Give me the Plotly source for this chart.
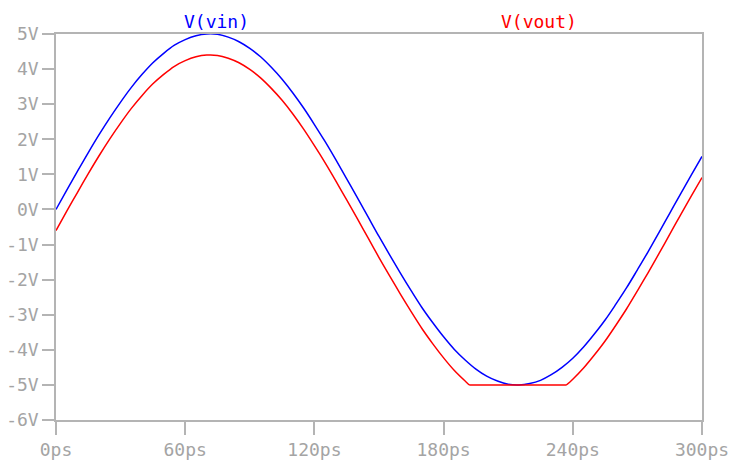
import plotly.graph_objects as go

# Time samples (ps) and node voltages (V)
t_vin = [0, 5, 10, 15, 20, 25, 30, 35, 40, 45, 50, 55, 60, 65, 70, 75, 80, 85, 90, 95,
         100, 105, 110, 115, 120, 125, 130, 135, 140, 145, 150, 155, 160, 165, 170, 175,
         180, 185, 190, 195, 200, 205, 210, 215, 220, 225, 230, 235, 240, 245, 250, 255,
         260, 265, 270, 275, 280, 285, 290, 295, 300]
v_vin = [0.00, 0.55, 1.09, 1.62, 2.13, 2.61, 3.06, 3.48, 3.85, 4.18, 4.45, 4.68, 4.84,
         4.95, 5.00, 4.99, 4.91, 4.78, 4.59, 4.35, 4.05, 3.71, 3.32, 2.89, 2.42, 1.93,
         1.41, 0.87, 0.33, -0.22, -0.77, -1.30, -1.82, -2.32, -2.80, -3.23, -3.63, -3.99,
         -4.29, -4.55, -4.75, -4.89, -4.98, -5.00, -4.96, -4.87, -4.71, -4.50, -4.24,
         -3.92, -3.55, -3.15, -2.70, -2.23, -1.72, -1.20, -0.66, -0.11, 0.44, 0.98, 1.51]

t_vout = [0, 5, 10, 15, 20, 25, 30, 35, 40, 45, 50, 55, 60, 65, 70, 75, 80, 85, 90, 95,
          100, 105, 110, 115, 120, 125, 130, 135, 140, 145, 150, 155, 160, 165, 170, 175,
          180, 185, 190, 192, 195, 200, 205, 210, 215, 220, 225, 230, 235, 237, 240, 245,
          250, 255, 260, 265, 270, 275, 280, 285, 290, 295, 300]
v_vout = [-0.60, -0.05, 0.49, 1.02, 1.53, 2.01, 2.46, 2.88, 3.25, 3.58, 3.85, 4.08, 4.24,
          4.35, 4.40, 4.39, 4.31, 4.18, 3.99, 3.75, 3.45, 3.11, 2.72, 2.29, 1.82, 1.33,
          0.81, 0.27, -0.27, -0.82, -1.37, -1.90, -2.42, -2.92, -3.40, -3.83, -4.23, -4.59,
          -4.89, -5.00, -5.00, -5.00, -5.00, -5.00, -5.00, -5.00, -5.00, -5.00, -5.00,
          -5.00, -4.84, -4.52, -4.15, -3.75, -3.30, -2.83, -2.32, -1.80, -1.26, -0.71,
          -0.16, 0.38, 0.91]

x_ticks = [0, 60, 120, 180, 240, 300]
x_labels = ["0ps", "60ps", "120ps", "180ps", "240ps", "300ps"]
y_ticks = [5, 4, 3, 2, 1, 0, -1, -2, -3, -4, -5, -6]
y_labels = ["5V", "4V", "3V", "2V", "1V", "0V", "-1V", "-2V", "-3V", "-4V", "-5V", "-6V"]

MONO = "DejaVu Sans Mono"
GREY = "#a4a4a4"
AXIS = "#b4b4b4"
FS = 18

W, H = 733, 462
L, R, T, B = 56, 31, 34, 42
pw, ph = W - L - R, H - T - B


def px_to_paper(px, py):
    return (px - L) / pw, (H - py - B) / ph


fig = go.Figure()
fig.add_trace(go.Scatter(x=t_vin, y=v_vin, mode="lines", name="V(vin)",
                         line=dict(color="#0000ff", width=1.5, shape="spline",
                                   smoothing=1)))
fig.add_trace(go.Scatter(x=t_vout, y=v_vout, mode="lines", name="V(vout)",
                         line=dict(color="#ff0000", width=1.5, shape="spline",
                                   smoothing=0.6)))

for text, color, (px, py) in [("V(vin)", "#0000ff", (216, 21)),
                              ("V(vout)", "#ff0000", (539, 21))]:
    ax, ay = px_to_paper(px, py)
    fig.add_annotation(text=text, x=ax, y=ay, xref="paper", yref="paper",
                       xanchor="center", yanchor="middle", showarrow=False,
                       font=dict(family=MONO, size=FS, color=color))

fig.update_xaxes(range=[0, 300], tickvals=x_ticks, ticktext=x_labels,
                 showgrid=False, zeroline=False, showline=True, mirror=True,
                 linecolor=AXIS, linewidth=1.5, ticks="outside", ticklen=13,
                 tickcolor=AXIS, tickwidth=1.5, ticklabelstandoff=0,
                 automargin=False,
                 tickfont=dict(family=MONO, size=FS, color=GREY))
fig.update_yaxes(range=[-6, 5], tickvals=y_ticks, ticktext=y_labels,
                 showgrid=False, zeroline=False, showline=True, mirror=True,
                 linecolor=AXIS, linewidth=1.5, ticks="outside", ticklen=12,
                 tickcolor=AXIS, tickwidth=1.5, automargin=False,
                 tickfont=dict(family=MONO, size=FS, color=GREY))

fig.update_layout(width=W, height=H, margin=dict(l=L, r=R, t=T, b=B),
                  paper_bgcolor="white", plot_bgcolor="white", showlegend=False)

fig.write_html("out.html")
